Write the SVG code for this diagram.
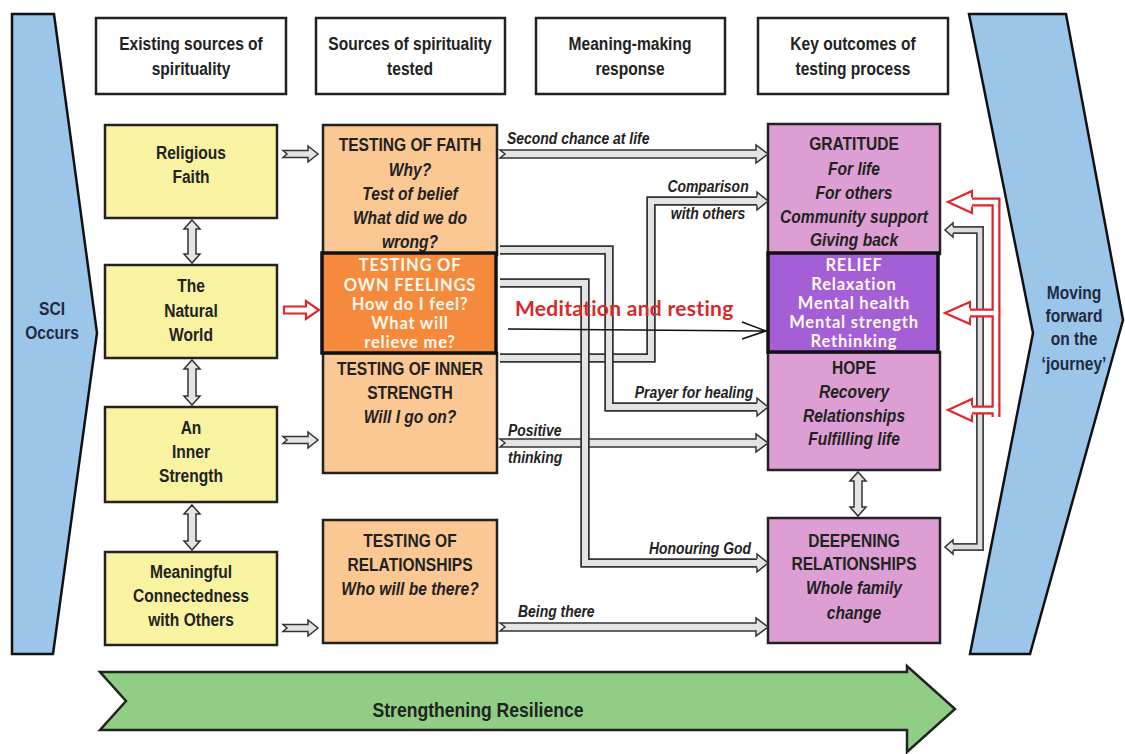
<svg xmlns="http://www.w3.org/2000/svg" width="1125" height="754" viewBox="0 0 1125 754">
<style>
.box{stroke:#222;stroke-width:2.5}
.hb{fill:#fff;stroke:#222;stroke-width:2.5}
.yel{fill:#f9f3a1}
.lor{fill:#fbc793}
.dor{fill:#f58a3c;stroke:#111;stroke-width:3.5}
.pnk{fill:#dd9fd3}
.pur{fill:#a45fd6;stroke:#111;stroke-width:3.5}
.blue{fill:#9cc5ea;stroke:#111;stroke-width:2.5}
.t{font-family:"Liberation Sans",Arial,sans-serif;font-weight:bold;font-size:19px;fill:#222;text-anchor:middle}
.i{font-style:italic}
.nav{fill:#1e2b40}
.w{font-family:Lato,"Open Sans",sans-serif;font-weight:bold;font-size:16.5px;fill:#fff8ee;text-anchor:middle;letter-spacing:0.8px}
.lbl{font-family:"Liberation Sans",Arial,sans-serif;font-weight:bold;font-style:italic;font-size:17px;fill:#222}
.med{font-family:Lato,"Open Sans",sans-serif;font-weight:bold;font-size:21px;fill:#d9272b;letter-spacing:0.3px}
.ha{fill:#e4e4e4;stroke:#333;stroke-width:1.5;stroke-linejoin:miter}
.ra{fill:#fff;stroke:#e0252b;stroke-width:2.2}
.so{fill:none;stroke:#333;stroke-width:9.5;stroke-linejoin:miter}
.si{fill:none;stroke:#e4e4e4;stroke-width:6;stroke-linejoin:miter}
.rso{fill:none;stroke:#e0252b;stroke-width:9}
.rsi{fill:none;stroke:#fff;stroke-width:4.5}
.gso{fill:none;stroke:#444;stroke-width:8}
.gsi{fill:none;stroke:#dcdcdc;stroke-width:4.5}
</style>

<!-- big side shapes -->
<g id="sci-occurs">
<polygon class="blue" points="12,14 54,14 97,333 53,654 12,654"/>
<g transform="translate(52 0) scale(0.82 1)">
<text class="t nav" x="0" y="315">SCI</text>
<text class="t nav" x="0" y="339">Occurs</text>
</g>
</g>
<g id="moving-forward">
<polygon class="blue" points="969,14 1066,14 1123,320 1030,654 970,654 1033,333"/>
<g transform="translate(1074 0) scale(0.82 1)">
<text class="t nav" x="0" y="299">Moving</text>
<text class="t nav" x="0" y="322">forward</text>
<text class="t nav" x="0" y="345">on the</text>
<text class="t nav" x="0" y="370">&#8216;journey&#8217;</text>
</g>
</g>

<!-- headers -->
<g id="hdr-existing">
<rect class="hb" x="96" y="18" width="190" height="76"/>
<g transform="translate(191 0) scale(0.82 1)">
<text class="t" x="0" y="50">Existing sources of</text>
<text class="t" x="0" y="75">spirituality</text>
</g>
</g>
<g id="hdr-tested">
<rect class="hb" x="316" y="18" width="189" height="76"/>
<g transform="translate(410 0) scale(0.82 1)">
<text class="t" x="0" y="50">Sources of spirituality</text>
<text class="t" x="0" y="75">tested</text>
</g>
</g>
<g id="hdr-meaning">
<rect class="hb" x="536" y="18" width="189" height="76"/>
<g transform="translate(630 0) scale(0.82 1)">
<text class="t" x="0" y="50">Meaning-making</text>
<text class="t" x="0" y="75">response</text>
</g>
</g>
<g id="hdr-outcomes">
<rect class="hb" x="758" y="18" width="190" height="76"/>
<g transform="translate(853 0) scale(0.82 1)">
<text class="t" x="0" y="50">Key outcomes of</text>
<text class="t" x="0" y="75">testing process</text>
</g>
</g>

<!-- yellow -->
<g id="religious-faith">
<rect class="box yel" x="105" y="125" width="172" height="93"/>
<g transform="translate(191 0) scale(0.82 1)">
<text class="t" x="0" y="159">Religious</text>
<text class="t" x="0" y="183">Faith</text>
</g>
</g>
<g id="natural-world">
<rect class="box yel" x="105" y="265" width="172" height="93"/>
<g transform="translate(191 0) scale(0.82 1)">
<text class="t" x="0" y="292">The</text>
<text class="t" x="0" y="317">Natural</text>
<text class="t" x="0" y="341">World</text>
</g>
</g>
<g id="inner-strength">
<rect class="box yel" x="105" y="407" width="172" height="95"/>
<g transform="translate(191 0) scale(0.82 1)">
<text class="t" x="0" y="434">An</text>
<text class="t" x="0" y="458">Inner</text>
<text class="t" x="0" y="482">Strength</text>
</g>
</g>
<g id="connectedness">
<rect class="box yel" x="105" y="552" width="172" height="93"/>
<g transform="translate(191 0) scale(0.82 1)">
<text class="t" x="0" y="578">Meaningful</text>
<text class="t" x="0" y="602">Connectedness</text>
<text class="t" x="0" y="626">with Others</text>
</g>
</g>

<!-- orange -->
<g id="testing-faith">
<rect class="box lor" x="323" y="125" width="174" height="130"/>
<g transform="translate(410 0) scale(0.82 1)">
<text class="t" x="0" y="151">TESTING OF FAITH</text>
<text class="t i" x="0" y="176">Why?</text>
<text class="t i" x="0" y="200">Test of belief</text>
<text class="t i" x="0" y="224">What did we do</text>
<text class="t i" x="0" y="248">wrong?</text>
</g>
</g>
<g id="testing-inner">
<rect class="box lor" x="323" y="353" width="174" height="120"/>
<g transform="translate(410 0) scale(0.82 1)">
<text class="t" x="0" y="375">TESTING OF INNER</text>
<text class="t" x="0" y="399">STRENGTH</text>
<text class="t i" x="0" y="423">Will I go on?</text>
</g>
</g>
<g id="testing-feelings">
<rect class="dor" x="322" y="253" width="174" height="100"/>
<text class="w" x="410" y="271">TESTING OF</text>
<text class="w" x="410" y="291">OWN FEELINGS</text>
<text class="w" x="410" y="310">How do I feel?</text>
<text class="w" x="410" y="329">What will</text>
<text class="w" x="410" y="348">relieve me?</text>
</g>
<g id="testing-relationships">
<rect class="box lor" x="323" y="520" width="174" height="123"/>
<g transform="translate(410 0) scale(0.82 1)">
<text class="t" x="0" y="547">TESTING OF</text>
<text class="t" x="0" y="571">RELATIONSHIPS</text>
<text class="t i" x="0" y="595">Who will be there?</text>
</g>
</g>

<!-- pink -->
<g id="gratitude">
<rect class="box pnk" x="768" y="124" width="172" height="130"/>
<g transform="translate(854 0) scale(0.82 1)">
<text class="t" x="0" y="150">GRATITUDE</text>
<text class="t i" x="0" y="175">For life</text>
<text class="t i" x="0" y="199">For others</text>
<text class="t i" x="0" y="223">Community support</text>
<text class="t i" x="0" y="246">Giving back</text>
</g>
</g>
<g id="hope">
<rect class="box pnk" x="768" y="352" width="172" height="118"/>
<g transform="translate(854 0) scale(0.82 1)">
<text class="t" x="0" y="374">HOPE</text>
<text class="t i" x="0" y="398">Recovery</text>
<text class="t i" x="0" y="422">Relationships</text>
<text class="t i" x="0" y="445">Fulfilling life</text>
</g>
</g>
<g id="relief">
<rect class="pur" x="768" y="253" width="170" height="99"/>
<text class="w" x="854" y="271">RELIEF</text>
<text class="w" x="854" y="290">Relaxation</text>
<text class="w" x="854" y="309">Mental health</text>
<text class="w" x="854" y="328">Mental strength</text>
<text class="w" x="854" y="347">Rethinking</text>
</g>
<g id="deepening">
<rect class="box pnk" x="768" y="518" width="172" height="125"/>
<g transform="translate(854 0) scale(0.82 1)">
<text class="t" x="0" y="547">DEEPENING</text>
<text class="t" x="0" y="570">RELATIONSHIPS</text>
<text class="t i" x="0" y="594">Whole family</text>
<text class="t i" x="0" y="619">change</text>
</g>
</g>

<!-- green arrow -->
<g id="resilience">
<polygon points="100,672 907,672 907,666 955,709 907,752 907,730 100,730 126,701" fill="#8fce84" stroke="#222" stroke-width="2.5"/>
<g transform="translate(478 0) scale(0.88 1)">
<text class="t" x="0" y="717" style="font-size:20px">Strengthening Resilience</text>
</g>
</g>

<g id="connectors">
<!-- yellow vertical double arrows -->
<polygon class="ha" points="192,220 200,229 196,229 196,254 200,254 192,263 184,254 188,254 188,229 184,229"/>
<polygon class="ha" points="192,360 200,369 196,369 196,396 200,396 192,405 184,396 188,396 188,369 184,369"/>
<polygon class="ha" points="192,505 200,514 196,514 196,541 200,541 192,550 184,541 188,541 188,514 184,514"/>
<polygon class="ha" points="858,472 866,481 862,481 862,507 866,507 858,516 850,507 854,507 854,481 850,481"/>
<!-- yellow to orange -->
<polygon class="ha" points="283,150.5 308,150.5 308,146 318,154 308,162 308,157.5 283,157.5 287,154"/>
<polygon class="ha" points="283,436.5 308,436.5 308,432 318,440 308,448 308,443.5 283,443.5 287,440"/>
<polygon class="ha" points="283,624.5 308,624.5 308,620 318,628 308,636 308,631.5 283,631.5 287,628"/>
<polygon class="ra" points="284,306.5 306,306.5 306,301 319,310 306,319 306,313.5 284,313.5"/>
<!-- straight hollow arrows -->
<polygon class="ha" points="500,150 756,150 756,145 768,154 756,163 756,158 500,158 505,154"/>
<polygon class="ha" points="500,439 756,439 756,434 768,443 756,452 756,447 500,447 505,443"/>
<polygon class="ha" points="500,623 756,623 756,618 768,627 756,636 756,631 500,631 505,627"/>
<!-- elbow arrows -->
<path class="so" d="M500,358 H651 V201 H758"/>
<path class="si" d="M500,358 H651 V201 H758"/>
<polyline class="ha" points="757,196.5 757,192 768,201 757,210 757,205.5"/>
<path class="so" d="M500,250 H609 V407 H758"/>
<path class="si" d="M500,250 H609 V407 H758"/>
<polyline class="ha" points="757,402.5 757,398 768,407 757,416 757,411.5"/>
<path class="so" d="M500,283 H585 V563 H758"/>
<path class="si" d="M500,283 H585 V563 H758"/>
<polyline class="ha" points="757,558.5 757,554 768,563 757,572 757,567.5"/>
<!-- meditation line -->
<path d="M508,329 L766,331 M742,322 L766,331 L742,339" fill="none" stroke="#111" stroke-width="1.6"/>
<!-- right grey elbow -->
<path class="gso" d="M952,230 H980 V547 H952"/>
<path class="gsi" d="M952,230 H980 V547 H952"/>
<polyline class="ha" points="953,226.5 953,223 945,230 953,237 953,233.5"/>
<polyline class="ha" points="953,543.5 953,540 945,547 953,554 953,550.5"/>
<!-- red arrows -->
<path class="rso" d="M970,202 H996 V417 M970,313 H996 M970,410 H996"/>
<path class="rsi" d="M970,202 H996 V417 M970,313 H996 M970,410 H996"/>
<polyline class="ra" points="972,197.5 972,191 948,202 972,213 972,206.5"/>
<polyline class="ra" points="970,308.5 970,302 945,313 970,324 970,317.5"/>
<polyline class="ra" points="972,405.5 972,399 948,410 972,421 972,414.5"/>
<!-- labels -->
<g transform="translate(507 0) scale(0.82 1)"><text class="lbl" x="0" y="144">Second chance at life</text></g>
<g transform="translate(708 0) scale(0.82 1)">
<text class="lbl" x="0" y="192" text-anchor="middle">Comparison</text>
<text class="lbl" x="0" y="219" text-anchor="middle">with others</text>
</g>
<g transform="translate(694 0) scale(0.82 1)"><text class="lbl" x="0" y="398" text-anchor="middle">Prayer for healing</text></g>
<g transform="translate(508 0) scale(0.82 1)">
<text class="lbl" x="0" y="436">Positive</text>
<text class="lbl" x="0" y="463">thinking</text>
</g>
<g transform="translate(700 0) scale(0.82 1)"><text class="lbl" x="0" y="554" text-anchor="middle">Honouring God</text></g>
<g transform="translate(518 0) scale(0.82 1)"><text class="lbl" x="0" y="617">Being there</text></g>
<text class="med" x="515" y="316">Meditation and resting</text>
</g>
</svg>
